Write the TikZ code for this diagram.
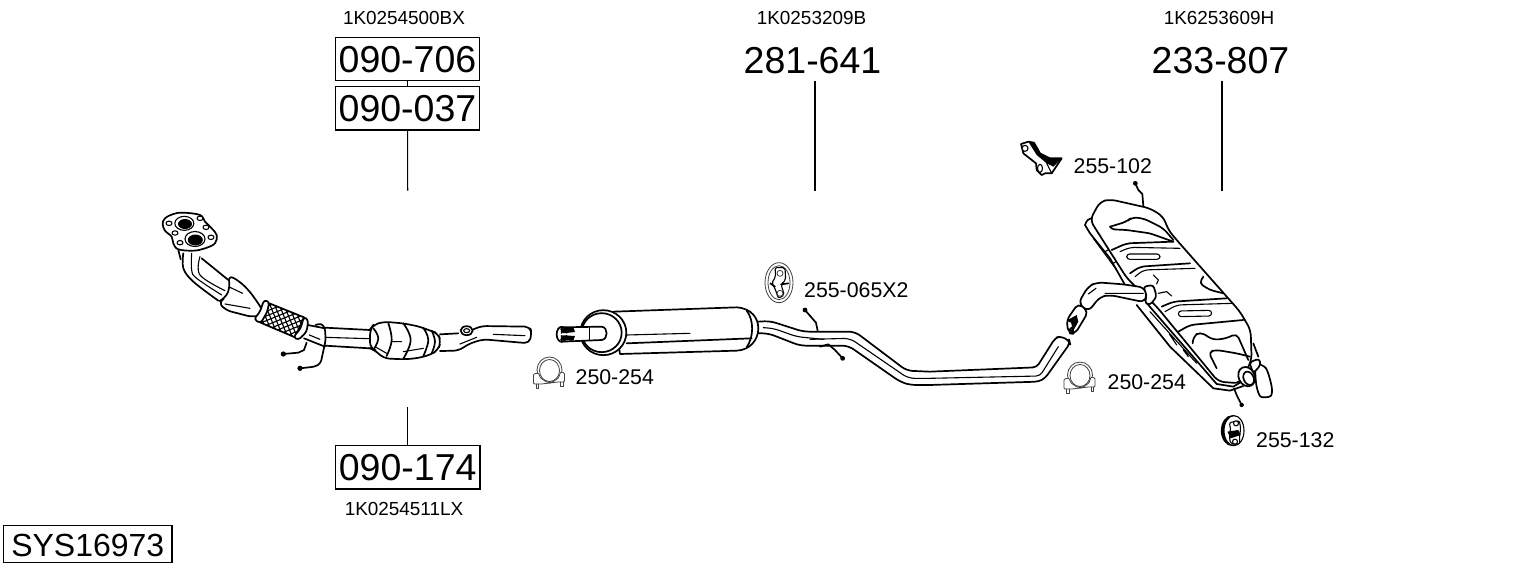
\documentclass[tikz,border=0pt]{standalone}
\usepackage{fontspec}
\setmainfont{Liberation Sans}

\begin{document}
\begin{tikzpicture}[x=1pt,y=-1pt]

    \tikzset{
      refno/.style={font=\fontsize{37.5}{40}\selectfont,inner sep=0pt,text height=28.8pt,text depth=0pt,minimum width=144.5pt,minimum height=43.4pt},
      refbox/.style={refno,draw,line width=1.1pt,text height=27.2pt},
      oemno/.style={font=\fontsize{18.9}{20}\selectfont,inner sep=0pt},
      fitno/.style={font=\fontsize{21.3}{23}\selectfont,inner sep=0pt,anchor=west},
      sysbox/.style={draw,line width=1.1pt,font=\fontsize{32}{34}\selectfont,inner sep=0pt,text height=24.4pt,text depth=0pt,minimum width=168.4pt,minimum height=37pt},
      leader/.style={line width=1.1pt},
      part/.style={line width=1.7pt,line cap=round,line join=round},
      fine/.style={line width=1.1pt,line cap=round,line join=round},
      thinpart/.style={line width=0.8pt,draw=black!75,line cap=round,line join=round},
      zoomed/.style 2 args={shift={(#1,#2)},x=0.3333pt,y=-0.3333pt},
      clamp/.pic={
        \draw[thinpart,fill=white] (0,0) ellipse [x radius=12.5pt,y radius=13pt];
        \draw[thinpart,fill=white] (0,0.5) ellipse [x radius=10pt,y radius=11pt];
        \draw[thinpart,fill=white,rounded corners=1pt] (-16,4)--(-11,3)--(-9,8)--(-3,12)--(3,12)--(9,8)--(11,2)--(15,3)--(15,12)--(8,12)--(-8,14)--(-16,14)--cycle;
        \draw[thinpart] (-13.5,14)--(-13.5,18)--(-11,18)--(-11,14) (11,12)--(11,16)--(13.5,16)--(13.5,12);
      },
    }
    \useasboundingbox (0,0) rectangle (1530,566);

    \node[oemno] (oem500) at (404,18) {1K0254500BX};
    \node[oemno] (oem209) at (811.5,18) {1K0253209B};
    \node[oemno] (oem609) at (1219,18) {1K6253609H};
    \node[oemno] (oem511) at (404,509) {1K0254511LX};
    \node[refbox] (ref706) at (407.5,59) {090-706};
    \node[refbox] (ref037) at (407.5,108.3) {090-037};
    \node[refbox] (ref174) at (407.7,467.3) {090-174};
    \node[refno] (ref641) at (812.5,59) {281-641};
    \node[refno] (ref807) at (1220.5,59) {233-807};
    \node[sysbox] (sys) at (87.8,544.2) {SYS16973};
    \node[fitno] (fit102) at (1073.5,166) {255-102};
    \node[fitno] (fit065) at (804,290) {255-065X2};
    \node[fitno] (fit254a) at (575.5,377.5) {250-254};
    \node[fitno] (fit254b) at (1107.5,382) {250-254};
    \node[fitno] (fit132) at (1256,440) {255-132};

    \coordinate (end037) at (407.7,190.5);
    \coordinate (end174) at (407.7,407);
    \coordinate (end641) at (815,190.5);
    \coordinate (end807) at (1222,190.5);
    \draw[leader] (ref706) -- (ref037);
    \draw[leader] (ref037) -- (end037);
    \draw[leader] (ref174) -- (end174);
    \draw[leader] (ref641.south -| end641) -- (end641);
    \draw[leader] (ref807.south -| end807) -- (end807);

    % front pipe
    \begin{scope}[zoomed={150}{200}]
      \draw[part] plot[smooth,tension=.6] coordinates {(100,160) (100,205) (130,245) (205,302)};
      \draw[fine] plot[smooth,tension=.6] coordinates {(125,160) (125,210) (140,235) (215,285)};
      \draw[fine] plot[smooth,tension=.6] coordinates {(150,170) (150,225) (225,272)};
      \draw[part] (155,175)--(235,240);
      \draw[part] (85,150)--(92,178);
      \draw[part,fill=white,rounded corners=6pt] (235,225)--(270,245)--(300,275)--(335,325)--(342,342)--(310,352)--(225,330)--(205,305)--(225,295)--(240,265)--cycle;
      \draw[fine] (225,312)--(300,325) (240,262)--(278,280);
      \draw[part,fill=white] (358,310)--(462,352)--(435,412)--(332,368)--cycle;
      \begin{scope}
        \clip (358,310)--(462,352)--(435,412)--(332,368)--cycle;
        \foreach \i in {200,214,...,480} {
          \draw[fine] (\i,300)--(\i+58,442);
        }
        \foreach \i in {320,334,...,600} {
          \draw[fine] (280,\i)--(560,\i-114);
        }
      \end{scope}
      \draw[part,fill=white,rounded corners=3pt] (342,300)--(358,305)--(352,335)--(332,370)--(312,358)--(330,335)--cycle;
      \draw[part,fill=white,rounded corners=3pt] (462,350)--(475,360)--(470,395)--(445,420)--(430,412)--(452,385)--cycle;
      \draw[part] (473,375)--(525,385) (462,415)--(525,440);
      \draw[fine] (478,405)--(510,418);
      \draw[part,fill=white] plot[smooth cycle,tension=.6] coordinates {(38,72) (45,55) (70,42) (100,38) (150,45) (165,65) (185,85) (200,105) (195,130) (165,145) (130,152) (85,148) (70,130) (65,110) (45,92)};
      \draw[fine,fill=white] (103,70) ellipse [x radius=9.5pt,y radius=7pt];
      \fill (105,72) ellipse [x radius=7pt,y radius=5pt];
      \draw[fine,fill=white] (135,117) ellipse [x radius=10pt,y radius=7.5pt];
      \fill (136,120) ellipse [x radius=7.5pt,y radius=5.5pt];
      \foreach \hx/\hy in {57/70,150/55,168/82,75/99,90/128,183/112} {
        \draw[fine,fill=white] (\hx,\hy) ellipse [x radius=3pt,y radius=2.2pt];
      }
      \draw[part] (470,428)--(462,450)--(445,458)--(400,462);
      \fill (400,462) circle [radius=2.6pt];
      \draw[part,rounded corners=3pt] (497,375)--(515,370)--(525,385)--(527,420)--(512,490)--(495,500)--(450,505);
      \fill (450,505) circle [radius=2.6pt];
    \end{scope}

    % catalytic converter
    \begin{scope}[zoomed={320}{300}]
      \draw[part] (15,83)--(150,90) (15,137)--(150,145);
      \draw[fine] (15,112)--(148,116);
      \draw[part,fill=white,rounded corners=6pt] (150,88)--(160,75)--(190,65)--(250,70)--(300,80)--(330,92)--(355,100)--(362,125)--(355,150)--(330,165)--(290,175)--(250,178)--(190,175)--(165,150)--(150,145)--cycle;
      \draw[part] plot[smooth,tension=.7] coordinates {(160,85) (175,115) (160,150)};
      \draw[part] plot[smooth,tension=.7] coordinates {(205,70) (215,120) (200,168)};
      \draw[part] plot[smooth,tension=.7] coordinates {(250,70) (272,120) (250,176)};
      \draw[part] plot[smooth,tension=.7] coordinates {(310,84) (325,120) (310,168)};
      \draw[part] plot[smooth,tension=.7] coordinates {(335,92) (345,125) (335,160)};
      \draw[fine] (215,125)--(245,125) (165,140)--(200,160) (250,155)--(310,145);
      \draw[part] (360,103)--(415,100);
      \draw[part,rounded corners=5pt] (455,90)--(485,78)--(630,80)--(635,100)--(628,130)--(490,118)--(450,130)--(415,152)--(360,153);
      \draw[part,fill=white] (440,92) ellipse [x radius=6pt,y radius=4.5pt];
      \draw[fine] (440,92) ellipse [x radius=3pt,y radius=2pt];
      \draw[fine] (420,132)--(470,112) (520,103)--(615,107);
    \end{scope}

    % centre silencer
    \begin{scope}[zoomed={530}{250}]
      \draw[part,rounded corners=6pt] (685,215)--(720,213)--(820,245)--(975,245)--(1130,362)--(1200,365);
      \draw[part,rounded corners=6pt] (685,250)--(715,250)--(810,287)--(955,287)--(1110,395)--(1140,405)--(1200,405);
      \draw[fine,rounded corners=6pt] (700,233)--(730,235)--(800,260)--(880,268);
      \draw[fine,rounded corners=6pt] (840,268)--(960,265)--(1135,385)--(1200,385);
      \draw[part,fill=white] (250,185)--(620,172) .. controls (665,175) and (685,205) .. (685,235) .. controls (685,270) and (660,300) .. (620,302)--(270,312)--cycle;
      \draw[part] (650,182) .. controls (672,210) and (672,260) .. (650,292);
      \draw[fine] (290,255)--(480,250);
      \draw[part] (290,280)--(665,265);
      \draw[part,fill=white] (220,248) ellipse [x radius=23pt,y radius=22.5pt];
      \draw[part,fill=white] (215,248) ellipse [x radius=20pt,y radius=19.5pt];
      \draw[part,fill=white] (95,232)--(215,230) .. controls (235,232) and (235,268) .. (215,270)--(95,275)--cycle;
      \draw[fine] (178,232)--(178,271);
      \fill (90,236)--(130,232)--(135,246)--(100,250)--cycle;
      \fill (90,270)--(130,272)--(135,258)--(100,256)--cycle;
      \draw[part] (95,253) ellipse [x radius=5pt,y radius=7.5pt];
      \draw[white,line width=1.5pt] (84,253)--(132,252);
      \draw[part] (825,180)--(858,218)--(863,242);
      \fill (825,180) circle [radius=2.4pt];
      \draw[part] (870,290)--(895,283)--(915,300)--(938,325);
      \fill (938,325) circle [radius=2.4pt];
    \end{scope}

    % hanger 255-065
    \begin{scope}[zoomed={755}{255}]
      \draw[thinpart,fill=white] (72,83) ellipse [x radius=14pt,y radius=20pt];
      \draw[thinpart] (72,83) ellipse [x radius=11pt,y radius=17pt];
      \draw[fine,fill=white,rounded corners=2pt] (60,38)--(90,38)--(92,75)--(78,88)--(88,120)--(70,130)--(60,100)--(50,85)--(62,65)--cycle;
      \draw[thinpart] (75,55) circle [radius=3pt] (75,115) circle [radius=3pt];
      \draw[part] (46,85)--(60,95) (78,88)--(100,85);
    \end{scope}

    % rear silencer
    \begin{scope}[zoomed={1010}{130}]
      \draw[part,rounded corners=4pt] (-240,725)--(80,712)--(135,625)--(150,618)--(178,632)--(180,640)--(105,745)--(85,755)--(-240,765);
      \draw[fine,rounded corners=4pt] (-240,745)--(90,738)--(145,650);
      \draw[part,rounded corners=3pt] (225,285)--(232,268)--(245,265);
      \draw[part] (225,285)--(240,310)--(300,385)--(345,465);
      \draw[fine] (250,325)--(320,420) (285,365)--(298,358) (310,400)--(322,392);
      \draw[part] (380,525)--(480,650)--(610,775);
      \draw[part] (415,525)--(620,762);
      \draw[fine] (420,545)--(560,700) (478,612)--(500,645) (520,660)--(535,680);
      \draw[part,fill=white,rounded corners=6pt] (240,270)--(270,215)--(300,208)--(420,235)--(460,260)--(475,300)--(500,330)--(690,545)--(722,600)--(725,690)--(690,760)--(625,755)--(440,530)--(351,445)--cycle;
      \draw[part,rounded corners=5pt] (300,290)--(350,275)--(365,262)--(400,265)--(460,295)--(490,330);
      \draw[part,rounded corners=3pt] (300,290)--(305,298)--(350,300)--(420,310)--(490,335);
      \draw[part,rounded corners=5pt] (305,360)--(350,340)--(490,335);
      \draw[fine,rounded corners=5pt] (330,365)--(360,352)--(510,355);
      \draw[fine,rounded corners=3pt] (350,372)--(450,372)--(450,388)--(350,388)--cycle;
      \draw[part,rounded corners=5pt] (360,430)--(390,410)--(540,400);
      \draw[fine,rounded corners=5pt] (375,440)--(400,420)--(555,415);
      \draw[part,rounded corners=4pt] (580,440)--(568,460)--(600,480)--(640,490);
      \draw[fine] (430,435)--(445,450)--(440,462) (445,490)--(470,485)--(485,498);
      \draw[part,rounded corners=5pt] (455,530)--(490,515)--(650,505);
      \draw[fine,rounded corners=5pt] (465,545)--(500,525)--(670,520);
      \draw[fine,rounded corners=3pt] (505,543)--(605,541)--(605,558)--(505,560)--cycle;
      \draw[part,rounded corners=5pt] (505,605)--(540,585)--(700,570);
      \draw[part,rounded corners=5pt] (548,640)--(550,620)--(570,605)--(610,630)--(650,625)--(680,610)--(715,690);
      \draw[part,rounded corners=5pt] (620,715)--(595,665)--(620,660)--(680,670)--(720,680);
      \draw[part] (730,640)--(745,680);
      \draw[part] (610,775)--(660,782)--(700,768) (620,762)--(670,770)--(695,755);
      \draw[part,fill=white] plot[smooth cycle,tension=.5] coordinates {(738,702) (768,715) (785,770) (782,798) (752,800) (740,770) (736,730)};
      \draw[part,fill=white,rounded corners=3pt] (718,697)--(748,686)--(752,705)--(730,730)--cycle;
      \draw[part,fill=white,rotate around={25:(710,740)}] (710,740) ellipse [x radius=8pt,y radius=10pt];
      \draw[part,fill=white,rotate around={25:(716,745)}] (716,745) ellipse [x radius=5pt,y radius=7pt];
      \draw[part] (672,775)--(680,795)--(695,825);
      \fill (695,825) circle [radius=2.2pt];
      \draw[part] (400,228)--(397,192)--(385,180)--(376,160);
      \fill (376,160) circle [radius=2.4pt];
      \draw[part,fill=white,rounded corners=6pt] (205,520)--(234,470)--(260,457)--(340,463)--(405,473)--(410,495)--(405,517)--(300,495)--(270,500)--(235,545)--cycle;
      \draw[fine] (285,490)--(400,490) (235,492)--(258,475);
      \draw[part,fill=white,rounded corners=3pt] (400,470)--(430,465)--(440,500)--(420,525)--(405,520)--(410,495)--cycle;
      \draw[part,fill=white,rounded corners=5pt] (205,520)--(170,570)--(175,610)--(195,612)--(235,545)--cycle;
      \fill (170,572)--(200,555)--(205,575)--(190,602)--(183,578)--cycle;
      \draw[part,fill=white] (178,600)--(186,592)--(190,605)--cycle;
    \end{scope}

    % bracket 255-102
    \begin{scope}[zoomed={1010}{130}]
      \draw[part,fill=white] (33,42)--(55,35)--(72,38)--(90,70)--(120,85)--(155,85)--(125,130)--(105,130)--(95,135)--(80,120)--(78,100)--(40,70)--cycle;
      \fill (55,35)--(72,38)--(92,72)--(120,85)--(155,85)--(130,110)--(110,100)--(80,75)--cycle;
      \draw[fine,fill=white] (45,55) circle [radius=3pt];
      \draw[fine,fill=white] (90,115) ellipse [x radius=2.5pt,y radius=4pt];
      \draw[fine] (110,100)--(125,130);
    \end{scope}

    % isolator 255-132
    \begin{scope}[zoomed={1140}{290}]
      \fill (277,422) ellipse [x radius=11.5pt,y radius=15.5pt];
      \draw[fine,fill=white] (282,422) ellipse [x radius=10pt,y radius=15pt];
      \draw[fine,fill=white,rounded corners=2pt] (268,398)--(298,392)--(302,415)--(298,445)--(300,462)--(272,462)--(268,440)--(272,420)--cycle;
      \fill (262,425)--(295,420)--(302,435)--(272,445)--cycle;
      \draw[fine,fill=white] (288,400) circle [radius=2.5pt] (285,455) circle [radius=2.5pt];
    \end{scope}

    \pic (clampa) at (549.5,370) {clamp};
    \pic (clampb) at (1080,375) {clamp};

\end{tikzpicture}
\end{document}
